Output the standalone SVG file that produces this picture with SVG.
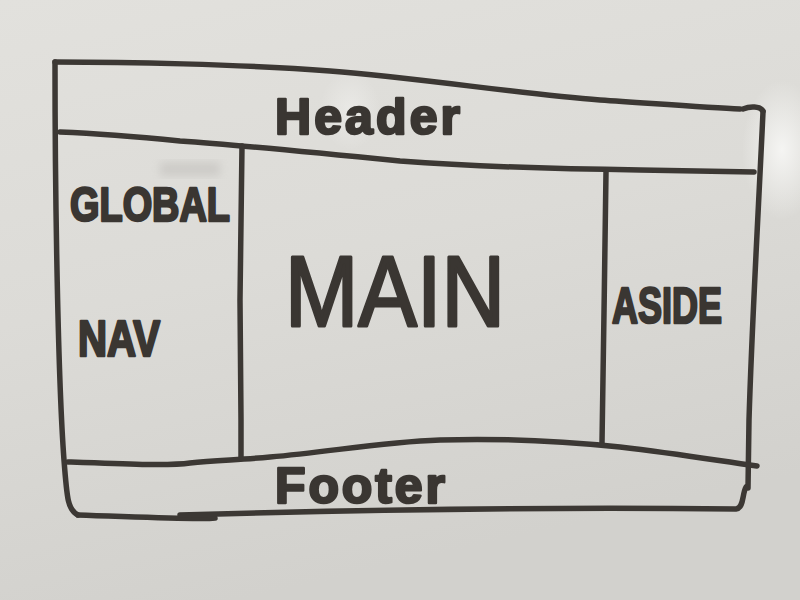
<svg xmlns="http://www.w3.org/2000/svg" width="800" height="600" viewBox="0 0 800 600">
  <defs>
    <linearGradient id="board" x1="0" y1="0" x2="0.3" y2="1">
      <stop offset="0" stop-color="#e2e1dd"/>
      <stop offset="0.5" stop-color="#dcdbd7"/>
      <stop offset="1" stop-color="#d2d1cd"/>
    </linearGradient>
    <radialGradient id="glare" cx="0.5" cy="0.5" r="0.5">
      <stop offset="0" stop-color="#f6f6f4" stop-opacity="0.95"/>
      <stop offset="1" stop-color="#f6f6f4" stop-opacity="0"/>
    </radialGradient>
    <filter id="soft" x="-20%" y="-20%" width="140%" height="140%">
      <feGaussianBlur stdDeviation="4"/>
    </filter>
  </defs>
  <style>
    .ink { fill: none; stroke: #3c3834; stroke-width: 5.5; stroke-linecap: round; stroke-linejoin: round; }
    .label { font-family: "Liberation Sans", "DejaVu Sans", sans-serif; font-weight: bold; fill: #3a3632; stroke: #3a3632; stroke-width: 2.5; stroke-linejoin: round; }
    .big { font-weight: normal; stroke-width: 3; }
  </style>

  <!-- whiteboard surface -->
  <rect width="800" height="600" fill="url(#board)"/>
  <ellipse cx="782" cy="150" rx="40" ry="70" fill="url(#glare)"/>
  <ellipse cx="350" cy="110" rx="30" ry="40" fill="url(#glare)" opacity="0.5"/>
  <!-- eraser smudge beside the nav label -->
  <rect x="160" y="162" width="60" height="14" fill="#9c9995" opacity="0.25" filter="url(#soft)"/>

  <!-- frame lines -->
  <g id="frame">
    <path class="ink" d="M55,62 C120,62 240,64 330,71 C420,78 520,94 600,100 C660,104 710,108 740,109"/>
    <path class="ink" d="M743,109 C750,106 760,106 763,111"/>
    <path class="ink" d="M763,112 C759,200 752,320 749,420 L748,488"/>
    <path class="ink" d="M55,62 C55,200 58,380 64,460 C67,500 68,510 78,515"/>
    <path class="ink" d="M78,515 C140,517 200,520 215,518"/>
    <path class="ink" d="M180,515 C350,510 550,507 736,509 C744,508 742,494 746,487"/>
    <path class="ink" d="M60,132 C110,134 150,138 180,141 C240,145 330,154 400,161 C480,167 560,169 640,170 L754,172"/>
    <path class="ink" d="M242,146 L240,300 L241,420 L241,458"/>
    <path class="ink" d="M606,172 C605,250 603,380 602,443"/>
    <path class="ink" d="M68,462 C120,464 170,466 190,463 C215,460 240,460 270,457 C330,452 380,442 440,440 C500,438 560,441 620,447 C680,454 720,461 757,466"/>
  </g>

  <!-- regions -->
  <g id="header">
    <text class="label" x="275" y="134" font-size="50" textLength="185" lengthAdjust="spacing">Header</text>
  </g>
  <g id="global-nav">
    <text class="label" x="70" y="221" font-size="48" textLength="160" lengthAdjust="spacingAndGlyphs">GLOBAL</text>
    <text class="label" x="78" y="356" font-size="50" textLength="82" lengthAdjust="spacingAndGlyphs">NAV</text>
  </g>
  <g id="main">
    <text class="label big" x="285" y="326" font-size="100" textLength="220" lengthAdjust="spacingAndGlyphs">MAIN</text>
  </g>
  <g id="aside">
    <text class="label" x="612" y="323" font-size="50" textLength="110" lengthAdjust="spacingAndGlyphs">ASIDE</text>
  </g>
  <g id="footer">
    <text class="label" x="275" y="503" font-size="50" textLength="170" lengthAdjust="spacing">Footer</text>
  </g>
</svg>
